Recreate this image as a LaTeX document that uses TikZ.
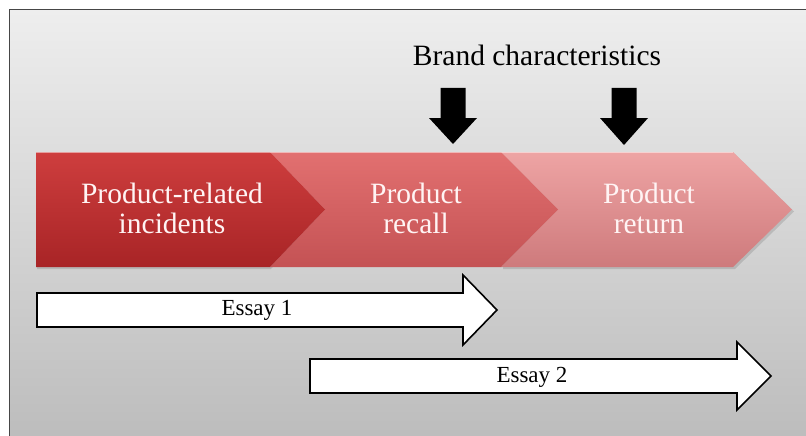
\documentclass[tikz,border=0pt]{standalone}
\usepackage{fontspec}
\setmainfont{Liberation Serif}
\definecolor{bgtop}{RGB}{238,238,238}
\definecolor{bgbot}{RGB}{188,188,188}
\definecolor{frame}{RGB}{70,70,70}
\definecolor{cAtop}{RGB}{206,62,62}
\definecolor{cAbot}{RGB}{168,36,38}
\definecolor{cBtop}{RGB}{226,112,112}
\definecolor{cBbot}{RGB}{196,82,84}
\definecolor{cCtop}{RGB}{238,164,164}
\definecolor{cCbot}{RGB}{206,122,124}
\definecolor{chevtxt}{RGB}{255,244,244}
\tikzset{
  chevtext/.style={align=center, text=chevtxt, font=\fontsize{29.5}{30}\selectfont, inner sep=0pt},
  essaytext/.style={text=black, font=\fontsize{23}{24}\selectfont, inner sep=0pt},
  brandtext/.style={text=black, font=\fontsize{29.5}{32}\selectfont, inner sep=0pt},
  essayarrow/.style={fill=white, draw=black, line width=1.6pt, line join=miter},
  blockarrow/.style={fill=black},
}
\begin{document}
\begin{tikzpicture}[x=1pt,y=-1pt]
\useasboundingbox (0,0) rectangle (806,436);
\fill[white] (0,0) rectangle (806,436);
\shade[top color=bgtop, bottom color=bgbot] (9,10) rectangle (812,442);
\draw[frame, line width=1pt] (812,10) -- (9,10) -- (9,442);
% chevrons (faint shadow)
\fill[black, opacity=0.12] (37,154) -- (271,154) -- (327,211.5) -- (271,269) -- (37,269) -- cycle;
\fill[black, opacity=0.12] (503,154) -- (735,154) -- (794,211.5) -- (735,269) -- (503,269) -- cycle;
\shade[top color=cCtop, bottom color=cCbot] (501,152) -- (733,152) -- (792,209.5) -- (733,267) -- (501,267) -- (558,209.5) -- cycle;
\shade[top color=cBtop, bottom color=cBbot] (270,152) -- (501,152) -- (558,209.5) -- (501,267) -- (270,267) -- (325,209.5) -- cycle;
\shade[top color=cAtop, bottom color=cAbot] (36,152) -- (270,152) -- (325,209.5) -- (270,267) -- (36,267) -- cycle;
\draw[white, opacity=0.5, line width=0.8pt] (36,152.5) -- (733,152.5);
\node[chevtext] (incidents) at (172,208) {Product-related\\incidents};
\node[chevtext] (recall) at (416,208) {Product\\recall};
\node[chevtext] (return) at (649,208) {Product\\return};
% brand characteristics
\node[brandtext] (brand) at (537,55) {Brand characteristics};
\fill[blockarrow] (440.5,88) -- (465.5,88) -- (465.5,118) -- (477,118) -- (453,144) -- (429,118) -- (440.5,118) -- cycle;
\fill[blockarrow] (611.5,88) -- (636.5,88) -- (636.5,118) -- (648,118) -- (624,145) -- (600,118) -- (611.5,118) -- cycle;
% essays
\draw[essayarrow] (37,293) -- (463,293) -- (463,275) -- (497,310) -- (463,345) -- (463,327) -- (37,327) -- cycle;
\node[essaytext] (essay1) at (257,310) {Essay 1};
\draw[essayarrow] (310,359) -- (737,359) -- (737,342) -- (771,376) -- (737,410) -- (737,393) -- (310,393) -- cycle;
\node[essaytext] (essay2) at (532,377) {Essay 2};
\end{tikzpicture}
\end{document}
